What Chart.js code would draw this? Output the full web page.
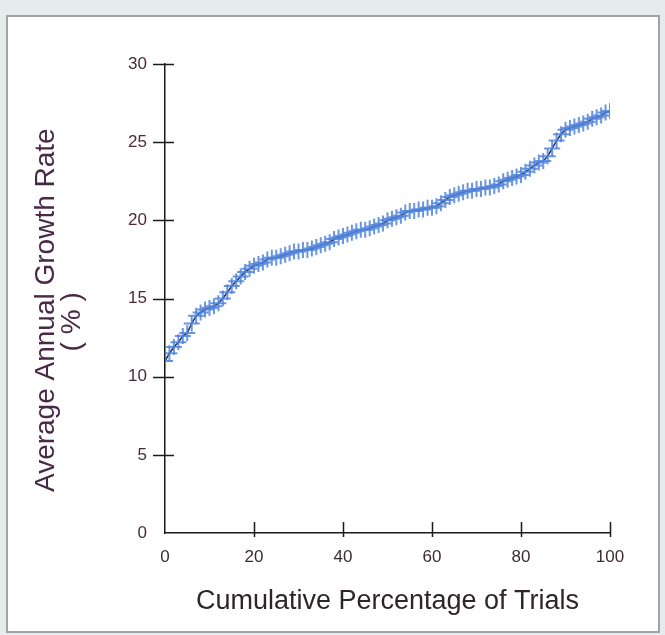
<!DOCTYPE html>
<html>
<head>
<meta charset="utf-8">
<script src="https://cdn.jsdelivr.net/npm/chart.js@4.4.1/dist/chart.umd.min.js"></script>
<style>
  body { margin: 0; background: #e6ecec; width: 665px; height: 635px; overflow: hidden; position: relative; }
  #frame { position: absolute; left: 6px; top: 15px; width: 650px; height: 614px; background: #fff; border: 2px solid #a3a3a3; }
  #growth-chart { position: absolute; left: 0; top: 0; }
</style>
</head>
<body>
<div id="frame"></div>
<canvas id="growth-chart" width="665" height="635"></canvas>
<script>
// cumulative percentage of trials (x)
const trialPct = [
  0, 1, 2, 3, 4, 5, 6, 7, 8, 9,
  10, 11, 12, 13, 14, 15, 16, 17, 18, 19,
  20, 21, 22, 23, 24, 25, 26, 27, 28, 29,
  30, 31, 32, 33, 34, 35, 36, 37, 38, 39,
  40, 41, 42, 43, 44, 45, 46, 47, 48, 49,
  50, 51, 52, 53, 54, 55, 56, 57, 58, 59,
  60, 61, 62, 63, 64, 65, 66, 67, 68, 69,
  70, 71, 72, 73, 74, 75, 76, 77, 78, 79,
  80, 81, 82, 83, 84, 85, 86, 87, 88, 89,
  90, 91, 92, 93, 94, 95, 96, 97, 98, 99, 100
];

// average annual growth rate (%)
const growthRate = [
  11.0, 11.5, 11.9, 12.2, 12.6, 12.8, 13.4, 13.9, 14.1, 14.3,
  14.4, 14.5, 14.7, 15.0, 15.4, 15.8, 16.1, 16.4, 16.7, 16.9,
  17.1, 17.2, 17.3, 17.5, 17.6, 17.6, 17.7, 17.8, 17.9, 18.0,
  18.0, 18.1, 18.1, 18.2, 18.3, 18.4, 18.5, 18.6, 18.8, 18.9,
  19.0, 19.1, 19.2, 19.3, 19.4, 19.4, 19.5, 19.6, 19.7, 19.8,
  20.0, 20.1, 20.2, 20.3, 20.5, 20.6, 20.6, 20.7, 20.7, 20.8,
  20.8, 20.9, 21.1, 21.3, 21.5, 21.6, 21.7, 21.8, 21.9, 21.9,
  22.0, 22.0, 22.1, 22.1, 22.2, 22.3, 22.5, 22.6, 22.7, 22.8,
  22.9, 23.1, 23.3, 23.5, 23.7, 23.8, 24.1, 24.6, 25.1, 25.5,
  25.8, 25.9, 26.0, 26.1, 26.2, 26.3, 26.5, 26.6, 26.7, 26.9, 27.0
];

const xTicks = [0, 20, 40, 60, 80, 100];
const yTicks = [0, 5, 10, 15, 20, 25, 30];

const points = trialPct.map((x, i) => ({ x, y: growthRate[i] }));

// draws the little "+" tick marks crossing each axis
const crossTicks = {
  id: 'crossTicks',
  afterDraw(chart) {
    const { ctx, chartArea, scales } = chart;
    ctx.save();
    ctx.strokeStyle = '#1a1a1a';
    ctx.lineWidth = 1.5;
    ctx.beginPath();
    yTicks.forEach(v => {
      if (v === 0) return;
      const py = Math.round(scales.y.getPixelForValue(v)) + 0.5;
      ctx.moveTo(chartArea.left - 12, py);
      ctx.lineTo(chartArea.left + 9, py);
    });
    xTicks.forEach(v => {
      if (v === 0) return;
      const px = Math.round(scales.x.getPixelForValue(v)) + 0.5;
      ctx.moveTo(px, chartArea.bottom - 11);
      ctx.lineTo(px, chartArea.bottom + 4);
    });
    ctx.stroke();
    ctx.restore();
  }
};

new Chart(document.getElementById('growth-chart'), {
  type: 'line',
  data: {
    datasets: [{
      data: points,
      borderColor: '#1d2c6b',
      borderWidth: 1.5,
      pointStyle: 'cross',
      pointRadius: 8,
      pointBorderWidth: 2,
      pointBorderColor: 'rgba(80, 132, 220, 0.85)',
      pointBackgroundColor: 'rgba(80, 132, 220, 0.85)',
      tension: 0,
      fill: false
    }]
  },
  options: {
    responsive: false,
    animation: false,
    layout: { padding: { left: 0, top: 64, right: 55, bottom: 0 } },
    plugins: { legend: { display: false }, tooltip: { enabled: false } },
    scales: {
      x: {
        type: 'linear', min: 0, max: 100,
        afterBuildTicks: s => { s.ticks = xTicks.map(v => ({ value: v })); },
        afterFit: s => { s.height = 102; },
        border: { display: true, color: '#1a1a1a', width: 1.5 },
        grid: { display: false },
        ticks: { color: '#3c2c34', font: { family: 'Liberation Sans, Arial', size: 17 }, padding: 6, maxRotation: 0 },
        title: {
          display: true, text: 'Cumulative Percentage of Trials',
          color: '#2f2528', font: { family: 'Liberation Sans, Arial', size: 27 },
          padding: { top: 0, bottom: 17 }
        }
      },
      y: {
        min: 0, max: 30,
        afterBuildTicks: s => { s.ticks = yTicks.map(v => ({ value: v })); },
        afterFit: s => { s.width = 165; },
        border: { display: true, color: '#1a1a1a', width: 1.5 },
        grid: { display: false },
        ticks: { color: '#4a2a38', font: { family: 'Liberation Sans, Arial', size: 17 }, padding: 10 },
        title: {
          display: true, text: ['Average Annual Growth Rate\u00a0\u00a0\u00a0', '( % )\u00a0\u00a0\u00a0\u00a0\u00a0\u00a0'],
          color: '#4a2848', font: { family: 'Liberation Sans, Arial', size: 28, lineHeight: 0.9 },
          padding: { top: 34, bottom: 0 }
        }
      }
    }
  },
  plugins: [crossTicks]
});
</script>
</body>
</html>
